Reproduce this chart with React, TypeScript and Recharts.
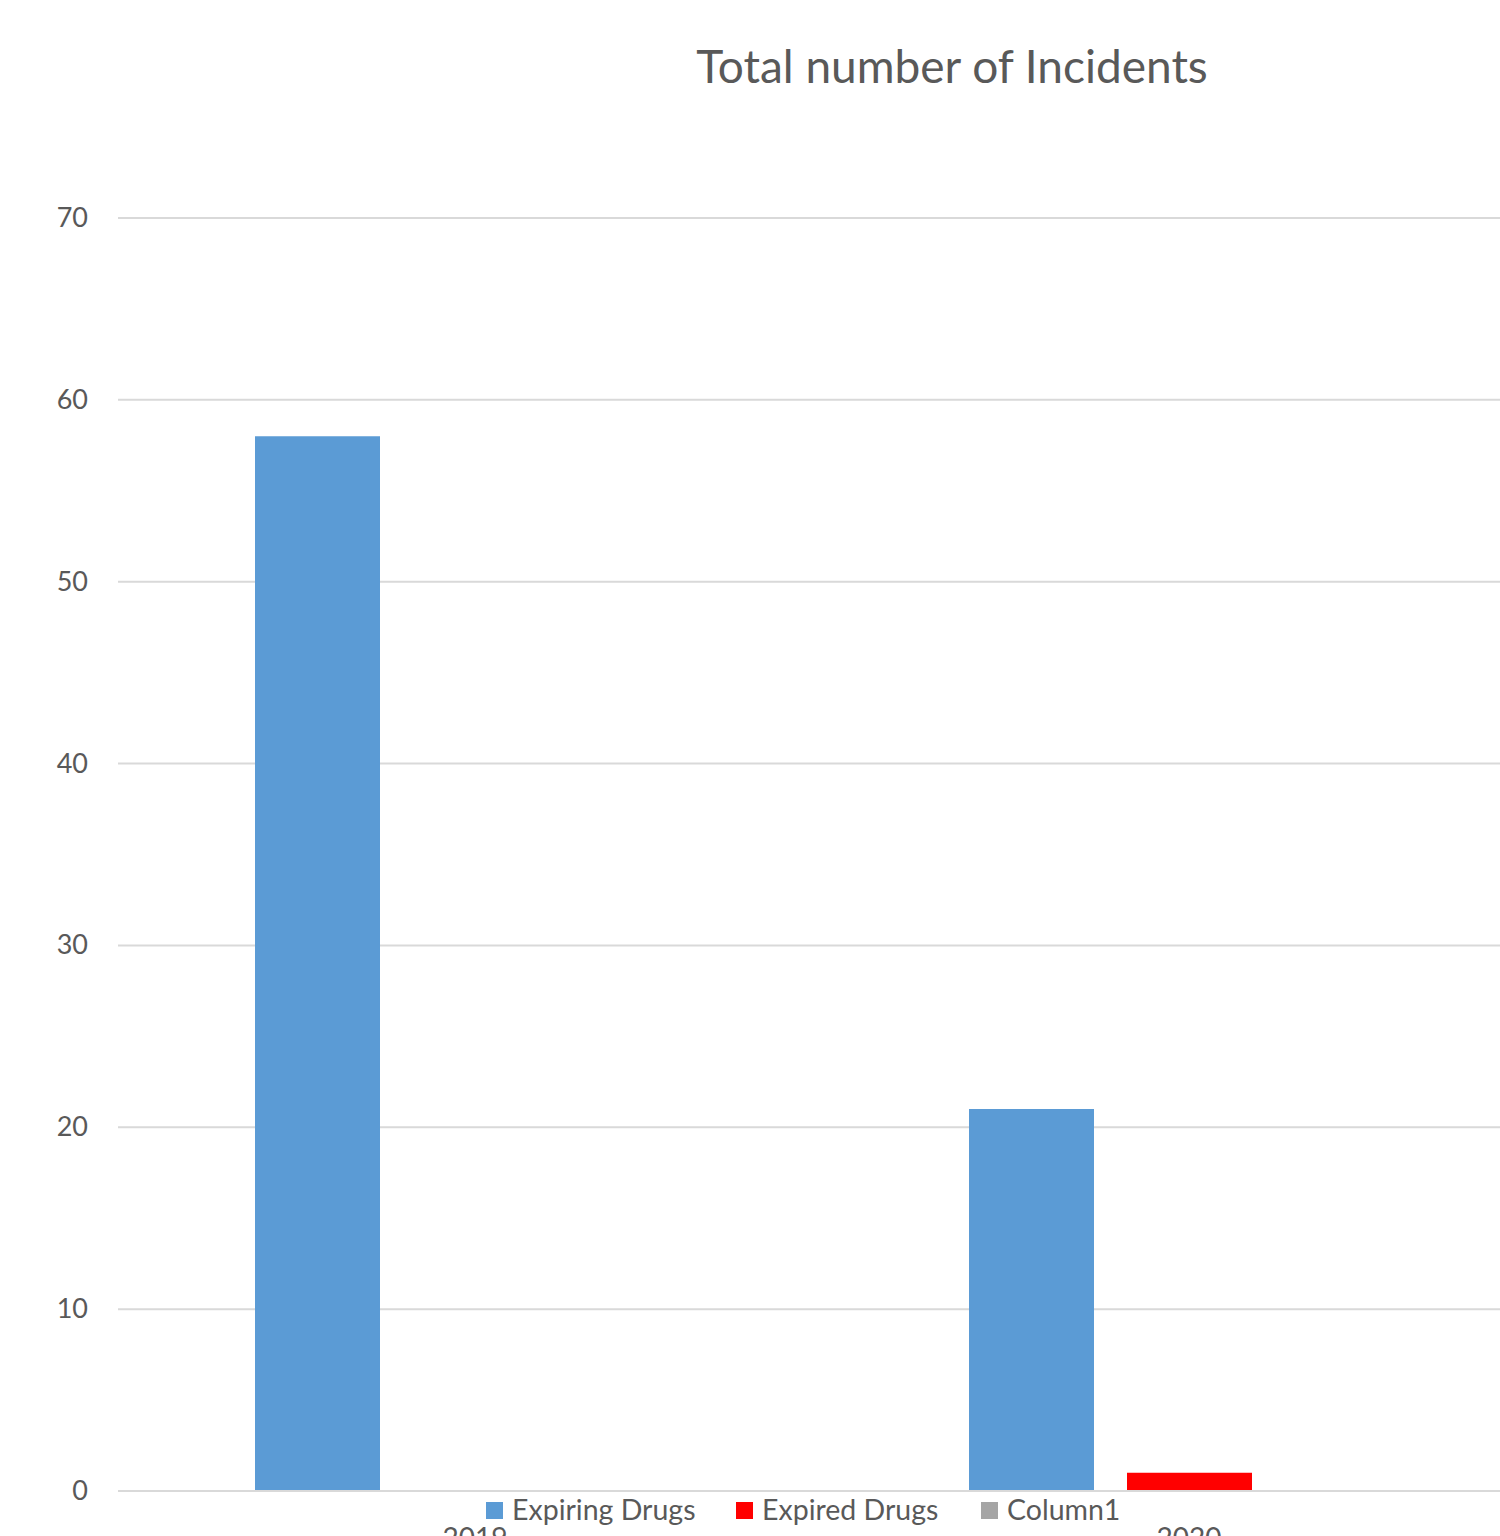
import React from "react";
import { BarChart, Bar, XAxis, YAxis, CartesianGrid } from "recharts";

const categories = ["2019", "2020"];
const expiringDrugs = [58, 21];
const expiredDrugs = [0, 1];
const column1 = [0, 0];
const yTicks = [0, 10, 20, 30, 40, 50, 60, 70];
const seriesNames = ["Expiring Drugs", "Expired Drugs", "Column1"];
const seriesColors = ["#5B9BD5", "#FF0000", "#A5A5A5"];

const data = categories.map((c, i) => ({
  year: c,
  expiring: expiringDrugs[i],
  expired: expiredDrugs[i],
  column1: column1[i],
}));

const FONT = "Lato, 'Open Sans', sans-serif";
const TEXT = "#595959";

const YTick = (props: any) => {
  const { y, payload } = props;
  return (
    <text x={88} y={y} dy={9} textAnchor="end" fill={TEXT} fontSize={27} fontFamily={FONT}>
      {payload.value}
    </text>
  );
};

const XTick = (props: any) => {
  const { x, payload } = props;
  return (
    <text x={x} y={1548} textAnchor="middle" fill={TEXT} fontSize={28} fontFamily={FONT}>
      {payload.value}
    </text>
  );
};

const legendX = [486, 736, 981];

export default function App() {
  return (
    <div
      style={{
        position: "absolute",
        left: 0,
        top: 0,
        width: 1500,
        height: 1536,
        overflow: "hidden",
        background: "#fff",
      }}
    >
      <div
        style={{
          position: "absolute",
          left: 952,
          top: 38,
          transform: "translateX(-50%)",
          whiteSpace: "nowrap",
          fontFamily: FONT,
          fontSize: 46,
          lineHeight: "56px",
          color: TEXT,
        }}
      >
        Total number of Incidents
      </div>
      <BarChart
        width={1546}
        height={1536}
        data={data}
        margin={{ top: 218, right: 0, bottom: 0, left: 0 }}
        barSize={125}
        barGap={33}
      >
        <CartesianGrid vertical={false} stroke="#d9d9d9" strokeWidth={2} />
        <XAxis
          dataKey="year"
          height={45}
          axisLine={{ stroke: "#d9d9d9", strokeWidth: 2 }}
          tickLine={false}
          tick={<XTick />}
          interval={0}
        />
        <YAxis
          width={118}
          domain={[0, 70]}
          ticks={yTicks}
          axisLine={false}
          tickLine={false}
          tick={<YTick />}
          interval={0}
        />
        <Bar dataKey="expiring" name={seriesNames[0]} fill={seriesColors[0]} isAnimationActive={false} />
        <Bar dataKey="expired" name={seriesNames[1]} fill={seriesColors[1]} isAnimationActive={false} />
        <Bar dataKey="column1" name={seriesNames[2]} fill={seriesColors[2]} isAnimationActive={false} />
      </BarChart>
      <svg
        width={1500}
        height={40}
        style={{ position: "absolute", left: 0, top: 1495, display: "block" }}
      >
        {seriesNames.map((name, i) => (
          <g key={name}>
            <rect x={legendX[i]} y={7} width={17} height={17} fill={seriesColors[i]} />
            <text x={legendX[i] + 26} y={25} fill={TEXT} fontSize={28.5} fontFamily={FONT}>
              {name}
            </text>
          </g>
        ))}
      </svg>
    </div>
  );
}
